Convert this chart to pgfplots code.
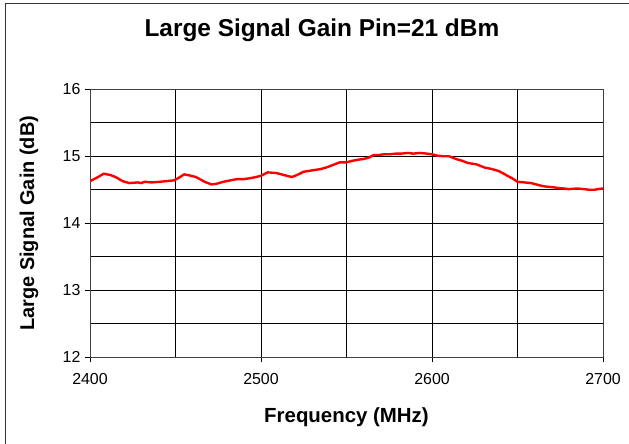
\documentclass[border=0pt]{standalone}
\usepackage{pgfplots}
\pgfplotsset{compat=1.18}
\usepackage{fontspec}
\setmainfont{Liberation Sans}
\begin{document}
\begin{tikzpicture}[x=1bp,y=1bp]
\path[use as bounding box] (0,0) rectangle (629,444);
\draw[line width=1bp, black!80] (5.6,0) -- (5.6,440) -- (629,440);
\begin{axis}[
  at={(90bp,86.7bp)}, anchor=south west,
  scale only axis, width=513bp, height=268bp,
  xmin=2400, xmax=2700, ymin=12, ymax=16,
  xtick={2400,2500,2600,2700},
  minor xtick={2450,2550,2650},
  ytick={12,13,14,15,16},
  minor ytick={12.5,13.5,14.5,15.5},
  grid=both,
  major grid style={black, line width=0.8bp},
  minor grid style={black, line width=0.8bp},
  axis line style={black!75, line width=0.8bp},
  tick style={black, line width=0.8bp},
  tick align=outside, major tick length=5bp, minor tick length=0pt,
  xtick pos=bottom, ytick pos=left,
  /pgf/number format/assume math mode=true,
  /pgf/number format/1000 sep={},
  tick label style={font=\fontsize{16}{16}\selectfont},
  xticklabel style={anchor=base, yshift=-22.5bp},
  yticklabel style={anchor=east, xshift=-1bp},
  title={Large Signal Gain Pin=21 dBm},
  title style={font=\fontsize{24.5}{24.5}\selectfont\bfseries, at={(axis description cs:0.452,1.174)}, anchor=base},
  xlabel={Frequency (MHz)},
  xlabel style={font=\fontsize{20.5}{20.5}\selectfont\bfseries, at={(axis description cs:0.5,-0.244)}, anchor=base},
  ylabel={Large Signal Gain (dB)},
  ylabel style={font=\fontsize{20}{20}\selectfont\bfseries, at={(axis description cs:-0.109,0.5)}, anchor=base},
]
\addplot[color=red, line width=2.4bp, line join=round] coordinates {
(2400,14.63) (2404,14.68) (2408,14.74) (2412,14.72) (2415,14.69) (2419,14.63)
(2423,14.60) (2428,14.61) (2430,14.60) (2432,14.62) (2436,14.61) (2441,14.62)
(2445,14.63) (2449,14.64) (2452,14.68) (2455,14.73) (2459,14.71) (2462,14.69)
(2467,14.62) (2471,14.58) (2474,14.59) (2478,14.62) (2482,14.64) (2486,14.66)
(2490,14.66) (2493,14.67) (2497,14.69) (2500,14.71) (2504,14.76) (2509,14.75)
(2512,14.73) (2515,14.71) (2518,14.69) (2521,14.72) (2525,14.77) (2530,14.79)
(2535,14.81) (2539,14.84) (2542,14.87) (2546,14.91) (2550,14.91) (2553,14.93)
(2557,14.95) (2560,14.96) (2563,14.98) (2566,15.02) (2569,15.02) (2572,15.03)
(2575,15.03) (2579,15.04) (2582,15.04) (2586,15.05) (2589,15.04) (2593,15.05)
(2597,15.04) (2600,15.03) (2603,15.01) (2607,15.00) (2610,15.00) (2614,14.96)
(2618,14.93) (2621,14.90) (2626,14.88) (2631,14.83) (2635,14.81) (2639,14.78)
(2642,14.74) (2644,14.71) (2647,14.67) (2650,14.62) (2654,14.61) (2658,14.60)
(2661,14.58) (2664,14.56) (2666,14.55) (2670,14.54) (2673,14.53) (2677,14.52)
(2680,14.51) (2685,14.52) (2689,14.51) (2692,14.50) (2695,14.50) (2697,14.51)
(2700,14.52)
};
\end{axis}
\end{tikzpicture}
\end{document}
